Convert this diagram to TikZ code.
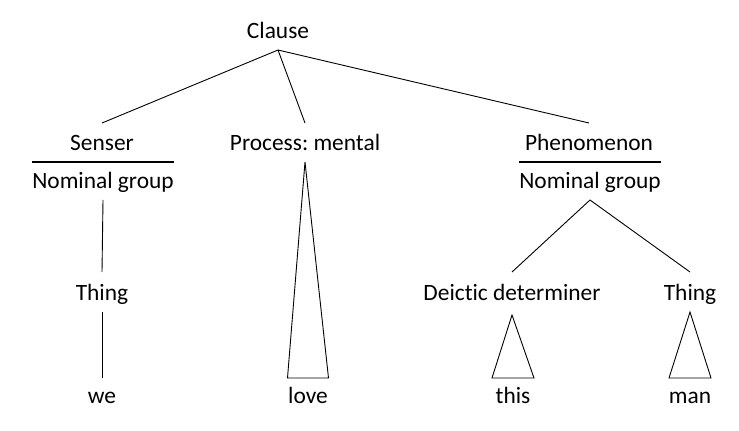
\documentclass[tikz,border=0pt]{standalone}
\usepackage{fontspec}
\setmainfont{Carlito}[Ligatures={NoCommon}]
\frenchspacing
\begin{document}
\begin{tikzpicture}[x=1pt,y=-1pt,
  lbl/.style={font=\fontsize{23.4}{28}\selectfont\frenchspacing, inner sep=0pt, outer sep=0pt, text height=15pt, text depth=5pt, anchor=base},
  conn/.style={line width=0.9pt, line join=miter},
  rulebar/.style={line width=2pt}]
\useasboundingbox (0,0) rectangle (739,431);
% nodes
\node[lbl] (clause) at (278,38) {Clause};
\node[lbl] (senser) at (102,150) {Senser};
\node[lbl] (proc)   at (305,150) {Process: mental};
\node[lbl] (phen)   at (589,150) {Phenomenon};
\node[lbl] (ngL)    at (103,188) {Nominal group};
\node[lbl] (ngR)    at (590,188) {Nominal group};
\node[lbl] (thingL) at (102,300) {Thing};
\node[lbl] (deic)   at (512,300) {Deictic determiner};
\node[lbl] (thingR) at (690,300) {Thing};
\node[lbl] (we)     at (102,403) {we};
\node[lbl] (love)   at (308,403) {love};
\node[lbl] (this)   at (513,403) {this};
\node[lbl] (man)    at (690,403) {man};
% connectors from Clause
\draw[conn] ([yshift=-7pt]clause.south) -- ([yshift=12pt]senser.north);
\draw[conn] ([yshift=-7pt]clause.south) -- ([yshift=12pt]proc.north);
\draw[conn] ([yshift=-7pt]clause.south) -- ([yshift=12pt]phen.north);
% rules
\draw[rulebar] ([yshift=11pt]ngL.north west) -- ([yshift=11pt]ngL.north east);
\draw[rulebar] ([yshift=11pt]ngR.north west) -- ([yshift=11pt]ngR.north east);
% left branch
\draw[conn] ([yshift=-7pt]ngL.south) -- ([yshift=13pt]thingL.north);
\draw[conn] ([yshift=-7pt]thingL.south) -- ([yshift=10pt]we.north);
% process triangle
\draw[conn] ([yshift=-7pt]proc.south) -- ([xshift=-20.5pt,yshift=10pt]love.north) -- ([xshift=20.5pt,yshift=10pt]love.north) -- cycle;
% right branch
\draw[conn] ([yshift=-7pt]ngR.south) -- ([yshift=13pt]deic.north);
\draw[conn] ([yshift=-7pt]ngR.south) -- ([yshift=13pt]thingR.north);
\draw[conn] ([yshift=-10pt]deic.south) -- ([xshift=-21pt,yshift=10pt]this.north) -- ([xshift=21pt,yshift=10pt]this.north) -- cycle;
\draw[conn] ([yshift=-7pt]thingR.south) -- ([xshift=-21pt,yshift=10pt]man.north) -- ([xshift=21pt,yshift=10pt]man.north) -- cycle;
\end{tikzpicture}
\end{document}
